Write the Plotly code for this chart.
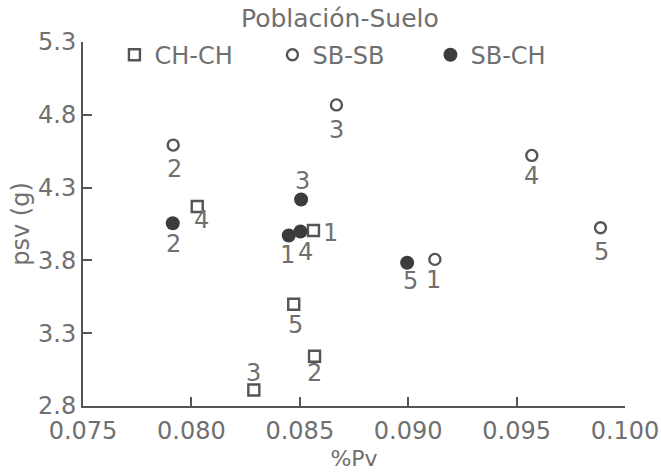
import plotly.graph_objects as go

# Data
ch_ch_x = [0.08563, 0.08568, 0.08288, 0.08027, 0.08472]
ch_ch_y = [4.005, 3.142, 2.910, 4.170, 3.499]
ch_ch_lbl = ["1", "2", "3", "4", "5"]

sb_sb_x = [0.09123, 0.07916, 0.08669, 0.09570, 0.09887]
sb_sb_y = [3.807, 4.592, 4.868, 4.521, 4.024]
sb_sb_lbl = ["1", "2", "3", "4", "5"]

sb_ch_x = [0.08449, 0.07914, 0.08506, 0.08503, 0.08995]
sb_ch_y = [3.971, 4.055, 4.218, 3.999, 3.784]
sb_ch_lbl = ["1", "2", "3", "4", "5"]

x_ticks = [0.075, 0.080, 0.085, 0.090, 0.095, 0.100]
y_ticks = [2.8, 3.3, 3.8, 4.3, 4.8, 5.3]

# label offsets in pixels (style): (dx, dy) with dy positive = downwards
ch_ch_off = [(17, 2), (0, 17), (0, -17), (4, 13), (2, 21)]
sb_sb_off = [(-1, 21), (1, 24), (0, 25), (0, 21), (1, 24)]
sb_ch_off = [(-1, 19), (1, 21), (1, -19), (5, 21), (3, 18)]

FONT = "DejaVu Sans"
TXT = "#707070"
INK = "#555555"
FS = 24

fig = go.Figure()
fig.add_trace(go.Scatter(
    x=ch_ch_x, y=ch_ch_y, mode="markers", name="CH-CH",
    marker=dict(symbol="square-open", size=11, color=INK, line=dict(width=2.4, color=INK)),
))
fig.add_trace(go.Scatter(
    x=sb_sb_x, y=sb_sb_y, mode="markers", name="SB-SB",
    marker=dict(symbol="circle-open", size=11, color=INK, line=dict(width=2.4, color=INK)),
))
fig.add_trace(go.Scatter(
    x=sb_ch_x, y=sb_ch_y, mode="markers", name="SB-CH",
    marker=dict(symbol="circle", size=14, color="#3c3c3c", line=dict(width=0)),
))

annotations = []
for xs, ys, labels, offs in [
    (ch_ch_x, ch_ch_y, ch_ch_lbl, ch_ch_off),
    (sb_sb_x, sb_sb_y, sb_sb_lbl, sb_sb_off),
    (sb_ch_x, sb_ch_y, sb_ch_lbl, sb_ch_off),
]:
    for xv, yv, lab, (dx, dy) in zip(xs, ys, labels, offs):
        annotations.append(dict(
            x=xv, y=yv, xref="x", yref="y", text=lab, showarrow=False,
            xanchor="center", yanchor="middle", xshift=dx, yshift=-dy,
            font=dict(family=FONT, size=FS, color=TXT),
        ))

annotations.append(dict(
    text="Población-Suelo", xref="paper", yref="paper", x=0.4747, y=1.0,
    yshift=24, xanchor="center", yanchor="middle", showarrow=False,
    font=dict(family=FONT, size=25, color=TXT),
))

fig.update_layout(
    width=661, height=475,
    margin=dict(l=83, r=36, t=42, b=69, autoexpand=False),
    paper_bgcolor="white", plot_bgcolor="white",
    font=dict(family=FONT, size=FS, color=TXT),
    showlegend=True,
    legend=dict(
        orientation="h", x=0.058, xanchor="left", y=0.964, yanchor="middle",
        bgcolor="rgba(0,0,0,0)", font=dict(family=FONT, size=FS, color=TXT),
        itemsizing="trace", traceorder="normal",
        entrywidth=113, entrywidthmode="pixels",
    ),
    annotations=annotations,
)

fig.update_xaxes(
    range=[0.075, 0.100], tickvals=x_ticks, ticktext=[f"{v:.3f}" for v in x_ticks],
    automargin=False,
    showgrid=False, zeroline=False, showline=True, linecolor=INK, linewidth=2,
    ticks="inside", ticklen=9, tickwidth=2, tickcolor=INK, ticklabelstandoff=2,
    tickfont=dict(family=FONT, size=FS, color=TXT),
    title=dict(text="%Pv", font=dict(family=FONT, size=22, color=TXT), standoff=7),
)
fig.update_yaxes(
    range=[2.8, 5.3], tickvals=y_ticks, ticktext=[f"{v:.1f}" for v in y_ticks],
    automargin=False,
    showgrid=False, zeroline=False, showline=True, linecolor=INK, linewidth=2,
    ticks="inside", ticklen=9, tickwidth=2, tickcolor=INK,
    tickfont=dict(family=FONT, size=FS, color=TXT),
    title=dict(text="psv (g)", font=dict(family=FONT, size=FS, color=TXT), standoff=2),
)

fig.write_html("out.html")
